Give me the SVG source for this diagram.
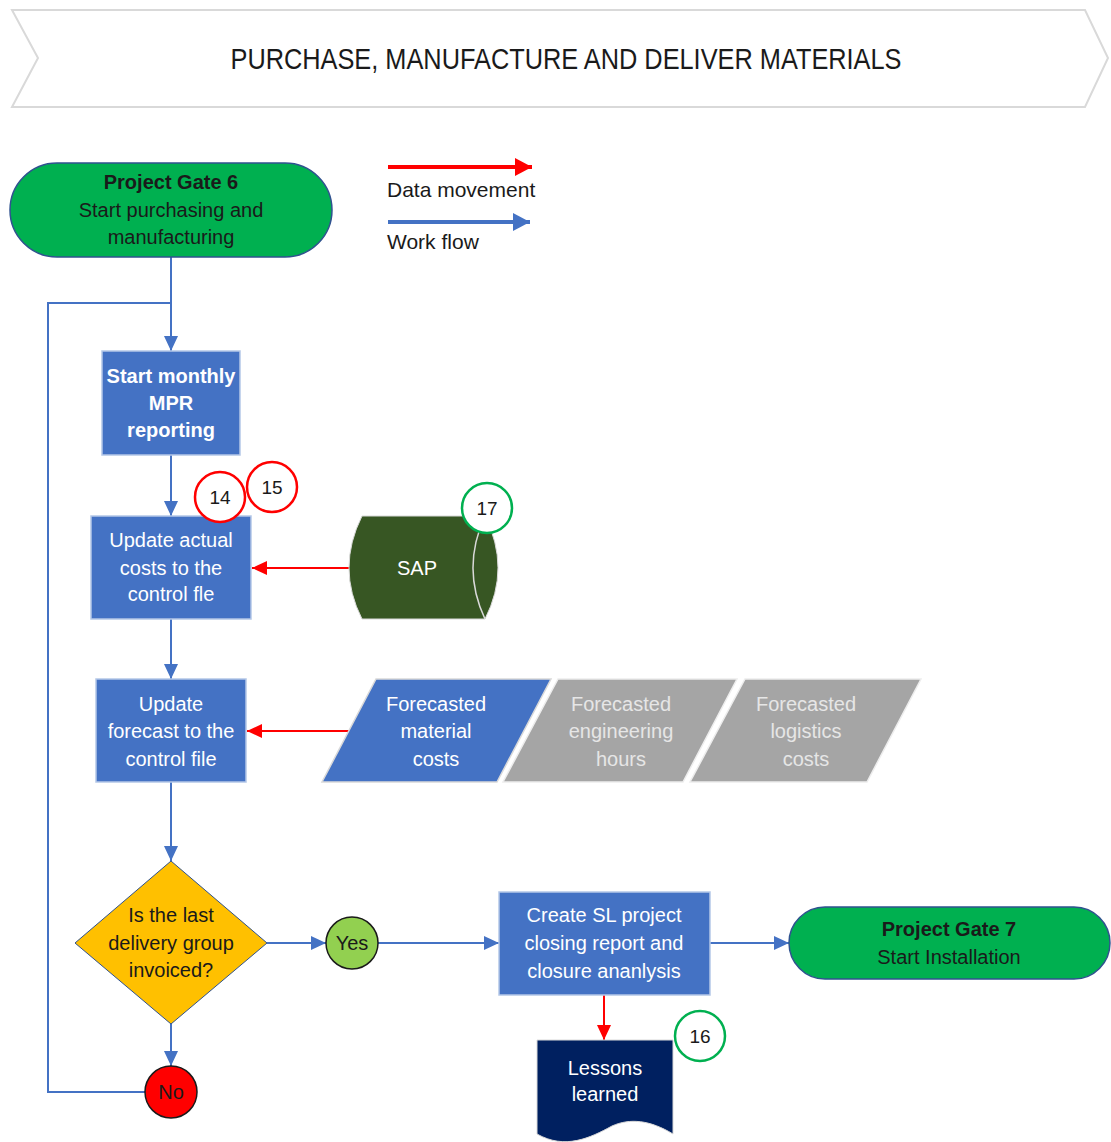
<svg xmlns="http://www.w3.org/2000/svg" width="1111" height="1142" viewBox="0 0 1111 1142">
  <style>
    text { font-family: "Liberation Sans", Arial, sans-serif; font-size: 20px; text-anchor: middle; }
    .dark { fill: #1a1a1a; }
    .white { fill: #ffffff; }
    .faded { fill: #e6e6e6; }
    .bold { font-weight: bold; }
    .title { font-size: 30px; }
    .legend-text { font-size: 21px; text-anchor: start; }
    .proc { fill: #4472c4; stroke: #b4c7e7; stroke-width: 1.5; }
    .gate { fill: #00b050; stroke: #2f528f; stroke-width: 1.5; }
    .flow { fill: none; stroke: #4472c4; stroke-width: 2; }
    .data { fill: none; stroke: #ff0000; stroke-width: 2; }
    .legend-line { stroke-width: 4; }
    .tagred { fill: #ffffff; stroke: #ff0000; stroke-width: 2.5; }
    .taggreen { fill: #ffffff; stroke: #00b050; stroke-width: 2.5; }
    .num { font-size: 19px; fill: #1a1a1a; }
  </style>
  <defs>
    <marker id="arrBlue" markerUnits="userSpaceOnUse" markerWidth="16" markerHeight="14" refX="15" refY="7" orient="auto">
      <path d="M0,0 L15,7 L0,14 Z" fill="#4472c4"/>
    </marker>
    <marker id="arrRed" markerUnits="userSpaceOnUse" markerWidth="16" markerHeight="14" refX="15" refY="7" orient="auto">
      <path d="M0,0 L15,7 L0,14 Z" fill="#ff0000"/>
    </marker>
    <marker id="arrBlueBig" markerUnits="userSpaceOnUse" markerWidth="18" markerHeight="18" refX="17" refY="9" orient="auto">
      <path d="M0,0 L17,9 L0,18 Z" fill="#4472c4"/>
    </marker>
    <marker id="arrRedBig" markerUnits="userSpaceOnUse" markerWidth="18" markerHeight="18" refX="17" refY="9" orient="auto">
      <path d="M0,0 L17,9 L0,18 Z" fill="#ff0000"/>
    </marker>
  </defs>

  <!-- Phase banner -->
  <g id="banner">
    <polygon points="12,10 1085,10 1108,58 1085,107 12,107 38,58" fill="#ffffff" stroke="#d9d9d9" stroke-width="2"/>
    <text x="566" y="69" class="dark title" textLength="671" lengthAdjust="spacingAndGlyphs">PURCHASE, MANUFACTURE AND DELIVER MATERIALS</text>
  </g>

  <!-- Legend -->
  <g id="legend">
    <line x1="388" y1="167" x2="532" y2="167" class="data legend-line" marker-end="url(#arrRedBig)"/>
    <text x="387" y="197" class="dark legend-text">Data movement</text>
    <line x1="388" y1="222" x2="530" y2="222" class="flow legend-line" marker-end="url(#arrBlueBig)"/>
    <text x="387" y="249" class="dark legend-text">Work flow</text>
  </g>

  <!-- Connectors -->
  <g id="connectors">
    <line x1="171" y1="257" x2="171" y2="351" class="flow" marker-end="url(#arrBlue)"/>
    <polyline points="148,1092 48,1092 48,303 171,303" class="flow"/>
    <line x1="171" y1="455" x2="171" y2="516" class="flow" marker-end="url(#arrBlue)"/>
    <line x1="349" y1="568" x2="252" y2="568" class="data" marker-end="url(#arrRed)"/>
    <line x1="171" y1="619" x2="171" y2="679" class="flow" marker-end="url(#arrBlue)"/>
    <line x1="350" y1="731" x2="247" y2="731" class="data" marker-end="url(#arrRed)"/>
    <line x1="171" y1="782" x2="171" y2="861" class="flow" marker-end="url(#arrBlue)"/>
    <line x1="267" y1="943" x2="326" y2="943" class="flow" marker-end="url(#arrBlue)"/>
    <line x1="378" y1="943" x2="499" y2="943" class="flow" marker-end="url(#arrBlue)"/>
    <line x1="710" y1="943" x2="789" y2="943" class="flow" marker-end="url(#arrBlue)"/>
    <line x1="604" y1="995" x2="604" y2="1040" class="data" marker-end="url(#arrRed)"/>
    <line x1="171" y1="1024" x2="171" y2="1066" class="flow" marker-end="url(#arrBlue)"/>
  </g>

  <!-- Gate 6 -->
  <g id="gate6">
    <rect x="10" y="163" width="322" height="94" rx="47" class="gate"/>
    <text x="171" y="189" class="dark bold">Project Gate 6</text>
    <text x="171" y="217" class="dark">Start purchasing and</text>
    <text x="171" y="244" class="dark">manufacturing</text>
  </g>

  <!-- Monthly reporting -->
  <g id="start-mpr">
    <rect x="102" y="351" width="138" height="104" class="proc"/>
    <text x="171" y="383" class="white bold">Start monthly</text>
    <text x="171" y="410" class="white bold">MPR</text>
    <text x="171" y="437" class="white bold">reporting</text>
  </g>

  <!-- Actual costs update -->
  <g id="update-actual">
    <rect x="91" y="516" width="160" height="103" class="proc"/>
    <text x="171" y="547" class="white">Update actual</text>
    <text x="171" y="575" class="white">costs to the</text>
    <text x="171" y="601" class="white">control fle</text>
  </g>

  <g id="tag14">
    <circle cx="220" cy="497" r="25" class="tagred"/>
    <text x="220" y="504" class="num">14</text>
  </g>
  <g id="tag15">
    <circle cx="272" cy="487" r="25" class="tagred"/>
    <text x="272" y="494" class="num">15</text>
  </g>

  <!-- SAP storage -->
  <g id="sap">
    <path d="M362,516 L485,516 Q511,568 485,619 L362,619 Q336,568 362,516 Z" fill="#375623" stroke="#d9d9d9" stroke-width="1"/>
    <path d="M485,516 Q461,568 485,619" fill="none" stroke="#d9d9d9" stroke-width="1.5"/>
    <text x="417" y="575" class="white">SAP</text>
  </g>
  <g id="tag17">
    <circle cx="487" cy="508" r="25" class="taggreen"/>
    <text x="487" y="515" class="num">17</text>
  </g>

  <!-- Forecast update -->
  <g id="update-forecast">
    <rect x="96" y="679" width="150" height="103" class="proc"/>
    <text x="171" y="711" class="white">Update</text>
    <text x="171" y="738" class="white">forecast to the</text>
    <text x="171" y="766" class="white">control file</text>
  </g>

  <!-- Forecast inputs -->
  <g id="fc-material">
    <polygon points="376,679 551,679 497,782 322,782" fill="#4472c4" stroke="#d9d9d9" stroke-width="1.5"/>
    <text x="436" y="711" class="white">Forecasted</text>
    <text x="436" y="738" class="white">material</text>
    <text x="436" y="766" class="white">costs</text>
  </g>
  <g id="fc-engineering">
    <polygon points="558,679 737,679 683,782 503,782" fill="#a5a5a5" stroke="#ededed" stroke-width="1.5"/>
    <text x="621" y="711" class="faded">Forecasted</text>
    <text x="621" y="738" class="faded">engineering</text>
    <text x="621" y="766" class="faded">hours</text>
  </g>
  <g id="fc-logistics">
    <polygon points="745,679 921,679 867,782 690,782" fill="#a5a5a5" stroke="#ededed" stroke-width="1.5"/>
    <text x="806" y="711" class="faded">Forecasted</text>
    <text x="806" y="738" class="faded">logistics</text>
    <text x="806" y="766" class="faded">costs</text>
  </g>

  <!-- Decision -->
  <g id="decision">
    <polygon points="171,861 267,943 171,1024 75,943" fill="#ffc000" stroke="#2f528f" stroke-width="1"/>
    <text x="171" y="922" class="dark">Is the last</text>
    <text x="171" y="950" class="dark">delivery group</text>
    <text x="171" y="977" class="dark">invoiced?</text>
  </g>
  <g id="yes">
    <circle cx="352" cy="943" r="26" fill="#92d050" stroke="#1a1a1a" stroke-width="1.5"/>
    <text x="352" y="950" class="dark">Yes</text>
  </g>
  <g id="no">
    <circle cx="171" cy="1092" r="26" fill="#ff0000" stroke="#1a1a1a" stroke-width="1.5"/>
    <text x="171" y="1099" class="dark">No</text>
  </g>

  <!-- Closing report -->
  <g id="closing-report">
    <rect x="499" y="892" width="211" height="103" class="proc"/>
    <text x="604" y="922" class="white">Create SL project</text>
    <text x="604" y="950" class="white">closing report and</text>
    <text x="604" y="978" class="white">closure ananlysis</text>
  </g>

  <!-- Gate 7 -->
  <g id="gate7">
    <rect x="789" y="907" width="321" height="72" rx="36" class="gate"/>
    <text x="949" y="936" class="dark bold">Project Gate 7</text>
    <text x="949" y="964" class="dark">Start Installation</text>
  </g>

  <!-- Lessons learned document -->
  <g id="lessons">
    <path d="M537,1040 L673,1040 L673,1134 C650,1120 630,1118 612,1126 C590,1138 565,1150 537,1134 Z" fill="#002060" stroke="#d9d9d9" stroke-width="1"/>
    <text x="605" y="1075" class="white">Lessons</text>
    <text x="605" y="1101" class="white">learned</text>
  </g>
  <g id="tag16">
    <circle cx="700" cy="1036" r="25" class="taggreen"/>
    <text x="700" y="1043" class="num">16</text>
  </g>
</svg>
